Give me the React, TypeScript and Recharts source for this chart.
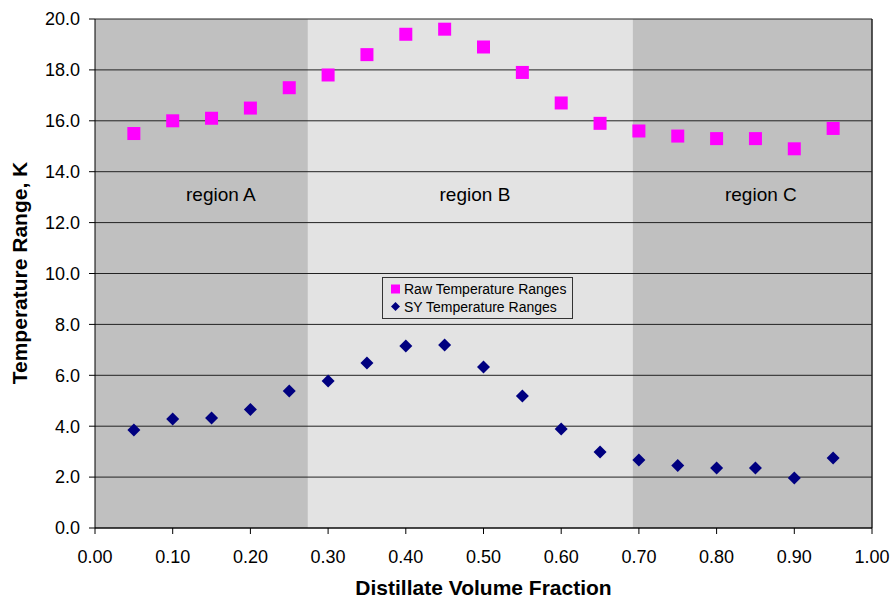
import React from 'react';
import {
  ScatterChart,
  Scatter,
  XAxis,
  YAxis,
  ReferenceArea,
  ReferenceDot,
  ReferenceLine,
  Legend,
} from 'recharts';

// distillate volume fractions
const fractions = [0.05, 0.1, 0.15, 0.2, 0.25, 0.3, 0.35, 0.4, 0.45, 0.5, 0.55, 0.6, 0.65, 0.7, 0.75, 0.8, 0.85, 0.9, 0.95];
const rawRanges = [15.5, 16.0, 16.1, 16.5, 17.3, 17.8, 18.6, 19.4, 19.6, 18.9, 17.9, 16.7, 15.9, 15.6, 15.4, 15.3, 15.3, 14.9, 15.7];
const syRanges = [3.85, 4.28, 4.32, 4.66, 5.38, 5.78, 6.48, 7.15, 7.19, 6.33, 5.19, 3.89, 2.99, 2.67, 2.46, 2.36, 2.36, 1.96, 2.75];

const xTicks = [0, 0.1, 0.2, 0.3, 0.4, 0.5, 0.6, 0.7, 0.8, 0.9, 1.0];
const yTicks = [0, 2, 4, 6, 8, 10, 12, 14, 16, 18, 20];

const regionNames = ['region A', 'region B', 'region C'];
const regionStarts = [0, 0.274, 0.692];
const regionEnds = [0.274, 0.692, 1.0];
const regionFills = ['#C0C0C0', '#E3E3E3', '#C0C0C0'];
const regionLabelX = [0.162, 0.489, 0.857];
const regionLabelY = 13.1;

const rawData = fractions.map((x, i) => ({ x, y: rawRanges[i] }));
const syData = fractions.map((x, i) => ({ x, y: syRanges[i] }));

const RAW_COLOR = '#FF00FF';
const SY_COLOR = '#000080';
const FONT = 'Arial, "Liberation Sans", sans-serif';

const Square = (props: any) => {
  const { cx, cy } = props;
  return <rect x={cx - 6.5} y={cy - 6.5} width={13} height={13} fill={RAW_COLOR} />;
};

const Diamond = (props: any) => {
  const { cx, cy } = props;
  const r = 6.5;
  return <path d={`M${cx},${cy - r} L${cx + r},${cy} L${cx},${cy + r} L${cx - r},${cy} Z`} fill={SY_COLOR} />;
};

const LegendBox = () => (
  <div
    style={{
      border: '1px solid #333',
      width: 191,
      height: 42,
      boxSizing: 'border-box',
      fontFamily: FONT,
      fontSize: 14,
      color: '#000',
      padding: '2px 0 0 7px',
      lineHeight: '18px',
      whiteSpace: 'nowrap',
    }}
  >
    <div style={{ display: 'flex', alignItems: 'center' }}>
      <svg width={12} height={12} style={{ marginRight: 2 }}>
        <rect x={1} y={1.5} width={9} height={9} fill={RAW_COLOR} />
      </svg>
      Raw Temperature Ranges
    </div>
    <div style={{ display: 'flex', alignItems: 'center' }}>
      <svg width={12} height={12} style={{ marginRight: 2 }}>
        <path d="M5.5,1 L10,5.5 L5.5,10 L1,5.5 Z" fill={SY_COLOR} />
      </svg>
      SY Temperature Ranges
    </div>
  </div>
);

export default function App() {
  return (
    <div style={{ position: 'absolute', left: 0, top: 0, background: '#fff' }}>
      <ScatterChart width={891} height={599} margin={{ top: 19, right: 19, bottom: 0, left: 0 }}>
        {regionNames.map((name, i) => (
          <ReferenceArea
            key={name}
            x1={regionStarts[i]}
            x2={regionEnds[i]}
            y1={0}
            y2={20}
            fill={regionFills[i]}
            fillOpacity={1}
            stroke="none"
          />
        ))}
        {yTicks.map((t) => (
          <ReferenceLine key={'g' + t} y={t} stroke="#222" strokeWidth={1} />
        ))}
        <ReferenceLine x={1} stroke="#222" strokeWidth={1.5} />
        <XAxis
          type="number"
          dataKey="x"
          domain={[0, 1]}
          ticks={xTicks}
          tickFormatter={(v: number) => v.toFixed(2)}
          height={71}
          stroke="#000"
          tickSize={6}
          tickMargin={16}
          tick={{ fill: '#000', fontSize: 18, fontFamily: FONT }}
          label={{
            content: (p: any) => (
              <text
                x={p.viewBox.x + p.viewBox.width / 2}
                y={595}
                textAnchor="middle"
                fontFamily={FONT}
                fontWeight="bold"
                fontSize={21}
                fill="#000"
              >
                Distillate Volume Fraction
              </text>
            ),
          }}
        />
        <YAxis
          type="number"
          dataKey="y"
          domain={[0, 20]}
          ticks={yTicks}
          tickFormatter={(v: number) => v.toFixed(1)}
          width={95}
          stroke="#000"
          tickSize={6}
          tickMargin={9}
          tick={{ fill: '#000', fontSize: 18, fontFamily: FONT }}
          label={{
            content: () => (
              <text
                x={27}
                y={273}
                transform="rotate(-90, 27, 273)"
                textAnchor="middle"
                fontFamily={FONT}
                fontWeight="bold"
                fontSize={21}
                fill="#000"
              >
                Temperature Range, K
              </text>
            ),
          }}
        />
        {regionNames.map((name, i) => (
          <ReferenceDot
            key={'lbl' + name}
            x={regionLabelX[i]}
            y={regionLabelY}
            r={0}
            fill="none"
            stroke="none"
            label={{ value: name, position: 'center', fontSize: 19, fontFamily: FONT, fill: '#000' }}
          />
        ))}
        <Legend
          verticalAlign="middle"
          align="center"
          content={() => <LegendBox />}
          wrapperStyle={{ left: 382, top: 277, width: 191 }}
        />
        <Scatter name="Raw Temperature Ranges" data={rawData} shape={Square} isAnimationActive={false} />
        <Scatter name="SY Temperature Ranges" data={syData} shape={Diamond} isAnimationActive={false} />
      </ScatterChart>
    </div>
  );
}
